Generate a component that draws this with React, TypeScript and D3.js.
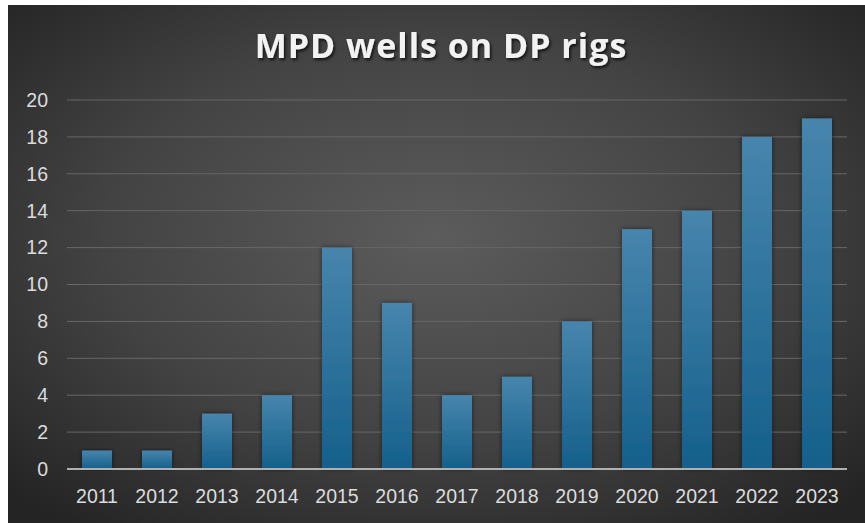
import React from "react";
import * as d3 from "d3";

const years = ["2011","2012","2013","2014","2015","2016","2017","2018","2019","2020","2021","2022","2023"];
const wells = [1, 1, 3, 4, 12, 9, 4, 5, 8, 13, 14, 18, 19];
const yTicks = [0, 2, 4, 6, 8, 10, 12, 14, 16, 18, 20];
const title = "MPD wells on DP rigs";

const W = 865;
const H = 523;
const plot = { left: 67, right: 847, top: 100, bottom: 469 };

export default function App() {
  const x = d3.scaleBand<string>().domain(years).range([plot.left, plot.right]).paddingInner(0.5).paddingOuter(0.25);
  const y = d3.scaleLinear().domain([0, 20]).range([plot.bottom, plot.top]);

  return (
    <svg width={W} height={H} style={{ position: "absolute", left: 0, top: 0, display: "block" }}>
      <defs>
        <radialGradient id="bg" cx="0.5" cy="0.45" r="0.7">
          <stop offset="0%" stopColor="#5c5c5c" />
          <stop offset="55%" stopColor="#434343" />
          <stop offset="100%" stopColor="#242424" />
        </radialGradient>
        <linearGradient id="bar" x1="0" y1="0" x2="0" y2="1">
          <stop offset="0%" stopColor="#4785ad" />
          <stop offset="100%" stopColor="#14608b" />
        </linearGradient>
        <filter id="barShadow" x="-40%" y="-10%" width="180%" height="120%">
          <feDropShadow dx="0" dy="0" stdDeviation="2.5" floodColor="#000" floodOpacity="0.55" />
        </filter>
        <filter id="titleShadow" x="-10%" y="-30%" width="120%" height="160%">
          <feDropShadow dx="1.5" dy="2" stdDeviation="1.5" floodColor="#000" floodOpacity="0.75" />
        </filter>
      </defs>
      <rect x={0} y={0} width={W} height={H} fill="#ffffff" />
      <rect x={8} y={5} width={W - 8} height={H - 5} fill="url(#bg)" />

      <text
        x={441}
        y={58}
        textAnchor="middle"
        fill="#f2f2f2"
        fontFamily="'Open Sans', sans-serif"
        fontWeight={700}
        fontSize={34}
        letterSpacing={1}
        filter="url(#titleShadow)"
      >
        {title}
      </text>

      {yTicks.map((t) => (
        <g key={t}>
          {t !== 0 && (
            <line x1={plot.left} x2={plot.right} y1={y(t)} y2={y(t)} stroke="#676767" strokeWidth={1} />
          )}
          <text
            x={48}
            y={y(t)}
            dy="0.35em"
            textAnchor="end"
            fill="#dcdcdc"
            fontFamily="'Liberation Sans', Arial, sans-serif"
            fontSize={19.5}
          >
            {t}
          </text>
        </g>
      ))}

      {years.map((yr, i) => (
        <rect
          key={yr}
          x={x(yr)}
          y={y(wells[i])}
          width={x.bandwidth()}
          height={y(0) - y(wells[i])}
          fill="url(#bar)"
          filter="url(#barShadow)"
        />
      ))}

      <line x1={plot.left} x2={plot.right} y1={y(0)} y2={y(0)} stroke="#b0b0b0" strokeWidth={2} />

      {years.map((yr) => (
        <text
          key={yr}
          x={(x(yr) ?? 0) + x.bandwidth() / 2}
          y={496.5}
          dy="0.35em"
          textAnchor="middle"
          fill="#dcdcdc"
          fontFamily="'Liberation Sans', Arial, sans-serif"
          fontSize={19.5}
        >
          {yr}
        </text>
      ))}
    </svg>
  );
}
